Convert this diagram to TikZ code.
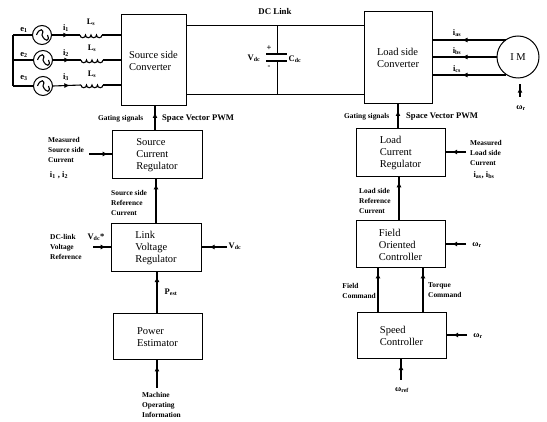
\documentclass[tikz,border=0pt]{standalone}
\usepackage{fontspec}
\setmainfont{Liberation Serif}
\usetikzlibrary{arrows.meta,decorations.markings}
\tikzset{
  x=1pt,y=-1pt,
  blk/.style={draw,line width=1pt,inner sep=0pt,align=left,font=\fontsize{10.5}{12}\selectfont},
  lab/.style={inner sep=0pt,anchor=west,align=left,font=\fontsize{7.4}{10}\selectfont\bfseries},
  sym/.style={inner sep=0pt,font=\fontsize{8.5}{9}\selectfont\bfseries},
  wire/.style={line width=1.1pt},
  ma/.style={wire,postaction={decorate},decoration={markings,mark=at position #1 with {\arrow{Latex[length=5.5pt,width=5pt]}}}},
  src/.style={draw,circle,line width=1pt,minimum size=19pt,inner sep=0pt},
  coil/.style={wire}
}
\newcommand{\rectbox}[6]{\node[blk,minimum width=#4-#2 pt,minimum height=#5-#3 pt] (#1) at ({(#2+#4)/2},{(#3+#5)/2}) {#6};}
\newcommand{\sinewave}[1]{\draw[wire] (#1) ++(-5.5,0) .. controls +(2.5,-7) and +(3,-7) .. ++(5.5,0) .. controls +(2.5,7) and +(3,7) .. ++(5.5,0);}
\newcommand{\coilat}[1]{\draw[coil] (#1) ++(-11,0) arc (180:0:2.75) arc (180:0:2.75) arc (180:0:2.75) arc (180:0:2.75);}
\begin{document}
\begin{tikzpicture}
\useasboundingbox (0,0) rectangle (547,422);
% blocks
\rectbox{ssc}{121}{15}{186}{106}{Source side\\Converter}
\rectbox{lsc}{364}{12}{432}{104}{Load side\\Converter}
\rectbox{scr}{112}{131}{202}{179}{Source\\Current\\Regulator}
\rectbox{lvr}{111}{224}{201}{272}{Link\\Voltage\\Regulator}
\rectbox{pe}{113}{314}{202}{360}{Power\\Estimator}
\rectbox{lcr}{356}{129}{445}{177}{Load\\Current\\Regulator}
\rectbox{foc}{356}{221}{445}{268}{Field\\Oriented\\Controller}
\rectbox{spd}{357}{313}{446}{359}{Speed\\Controller}
\node[draw,circle,line width=1pt,minimum size=42pt,inner sep=0pt,font=\fontsize{10.5}{12}\selectfont] (im) at (518,57) {I M};
% sources
\node[src] (s1) at (42,35) {};
\node[src] (s2) at (43,60) {};
\node[src] (s3) at (43,86) {};
\sinewave{s1}\sinewave{s2}\sinewave{s3}
\coordinate (busa) at (13,35);
\coordinate (busb) at (13,60);
\coordinate (busc) at (13,86);
\draw[wire] (busa) -- (busc);
\draw[wire] (busa) -- (s1);
\draw[wire] (busb) -- (s2);
\draw[wire] (busc) -- (s3);
\coordinate (la) at (91,35);
\coordinate (lb) at (92,60);
\coordinate (lc) at (92,85);
\coordinate (la1) at (80,35);\coordinate (la2) at (102,35);
\coordinate (lb1) at (81,60);\coordinate (lb2) at (103,60);
\coordinate (lc1) at (81,85);\coordinate (lc2) at (103,85);
\coilat{la}\coilat{lb}\coilat{lc}
\draw[ma=0.6] (s1.east) -- (la1);
\draw[ma=0.6] (s2.east) -- (lb1);
\draw[ma=0.6] (s3.east) -- (lc1);
\draw[wire] (la2) -- (la2 -| ssc.west);
\draw[wire] (lb2) -- (lb2 -| ssc.west);
\draw[wire] (lc2) -- (lc2 -| ssc.west);
\node[sym] (e1) at (24,30) {e\textsubscript{1}};
\node[sym] (e2) at (24,55) {e\textsubscript{2}};
\node[sym] (e3) at (24,78) {e\textsubscript{3}};
\node[sym] (i1) at (66,28) {i\textsubscript{1}};
\node[sym] (i2) at (66,53) {i\textsubscript{2}};
\node[sym] (i3) at (66,77) {i\textsubscript{3}};
\node[sym] (l1) at (91,22) {L\textsubscript{s}};
\node[sym] (l2) at (92,48) {L\textsubscript{s}};
\node[sym] (l3) at (92,74) {L\textsubscript{s}};
% DC link
\coordinate (dct) at (277.5,25.5);
\coordinate (dcb) at (277.5,94.5);
\coordinate (cpa) at (277.5,54);
\coordinate (cpb) at (277.5,61);
\draw[wire] (ssc.east |- dct) -- (dct) -- (lsc.west |- dct);
\draw[wire] (ssc.east |- dcb) -- (dcb) -- (lsc.west |- dcb);
\draw[wire] (dct) -- (cpa);
\draw[wire] (dcb) -- (cpb);
\draw[line width=1.2pt] (266,54) -- (287,54);
\draw[line width=1.2pt] (266,61) -- (287,61);
\node[sym,font=\fontsize{8.8}{9}\selectfont\bfseries] (dcl) at (275,11) {DC Link};
\node[sym] (vdc) at (254,58) {V\textsubscript{dc}};
\node[sym] (pl) at (269,48) {+};
\node[sym] (mi) at (269,67) {-};
\node[sym] (cdc) at (295,59) {C\textsubscript{dc}};
% motor
\coordinate (ma1) at (506,40);
\coordinate (ma3) at (506,75);
\draw[wire] (lsc.east |- ma1) -- (ma1);
\draw[wire] (lsc.east |- im.west) -- (im.west);
\draw[wire] (lsc.east |- ma3) -- (ma3);
\draw[ma=0.88] (ma1) -- (456,40);
\draw[ma=0.85] (im.west) -- (456,57);
\draw[ma=0.88] (ma3) -- (456,75);
\node[sym] (ia) at (457,33) {i\textsubscript{as}};
\node[sym] (ib) at (457,51) {i\textsubscript{bs}};
\node[sym] (ic) at (457,69) {i\textsubscript{cs}};
\coordinate (wrm) at (520,97);
\draw[ma=0.75] (wrm) -- (520,84);
\node[sym] (wr0) at (521,108) {ω\textsubscript{r}};
% gating
\draw[ma=0.75] (scr.north -| 155,0) -- (ssc.south -| 155,0);
\draw[ma=0.75] (lcr.north -| 398,0) -- (lsc.south -| 398,0);
\node[lab] (g1) at (98,119) {Gating signals};
\node[lab,font=\fontsize{8.6}{9}\selectfont\bfseries] (g2) at (162,119) {Space Vector PWM};
\node[lab] (g3) at (344,117) {Gating signals};
\node[lab,font=\fontsize{8.6}{9}\selectfont\bfseries] (g4) at (406,117) {Space Vector PWM};
% left chain
\coordinate (msw) at (89,154);
\draw[ma=0.85] (msw) -- (msw -| scr.west);
\node[lab] (m1) at (48,150) {Measured\\Source side\\Current};
\node[sym] (m2) at (59,175) {i\textsubscript{1} , i\textsubscript{2}};
\draw[ma=0.9] (lvr.north -| 156,0) -- (scr.south -| 156,0);
\node[lab] (m3) at (111,203) {Source side\\Reference\\Current};
\coordinate (vrefw) at (93,247);
\draw[ma=0.75] (vrefw) -- (vrefw -| lvr.west);
\node[lab] (m4) at (50,247) {DC-link\\Voltage\\Reference};
\node[sym] (m5) at (96,237) {V\textsubscript{dc}*};
\coordinate (vde) at (227,247);
\draw[ma=0.7] (vde) -- (vde -| lvr.east);
\node[sym] (m6) at (235,246) {V\textsubscript{dc}};
\draw[ma=0.9] (pe.north -| 157,0) -- (lvr.south -| 157,0);
\node[sym] (m7) at (171,292) {P\textsubscript{est}};
\coordinate (mio) at (157,388);
\draw[ma=0.8] (mio) -- (mio |- pe.south);
\node[lab] (m8) at (142,405) {Machine\\Operating\\Information};
% right chain
\coordinate (mle) at (466,152);
\draw[ma=0.7] (mle) -- (mle -| lcr.east);
\node[lab] (r1) at (470,153) {Measured\\Load side\\Current};
\node[sym] (r2) at (484,175) {i\textsubscript{as}, i\textsubscript{bs}};
\draw[ma=0.9] (foc.north -| 399,0) -- (lcr.south -| 399,0);
\node[lab] (r3) at (359,201) {Load side\\Reference\\Current};
\coordinate (wr1) at (466,244);
\draw[ma=0.7] (wr1) -- (wr1 -| foc.east);
\node[sym] (r4) at (477,245) {ω\textsubscript{r}};
\draw[ma=0.9] (spd.north -| 378,0) -- (foc.south -| 378,0);
\draw[ma=0.9] (spd.north -| 423,0) -- (foc.south -| 423,0);
\node[lab,anchor=east] (r5) at (376,291) {Field\\Command};
\node[lab] (r6) at (428,290) {Torque\\Command};
\coordinate (wr2) at (467,335);
\draw[ma=0.7] (wr2) -- (wr2 -| spd.east);
\node[sym] (r7) at (478,336) {ω\textsubscript{r}};
\coordinate (wrf) at (401,380);
\draw[ma=0.75] (wrf) -- (wrf |- spd.south);
\node[sym] (r8) at (402,390) {ω\textsubscript{ref}};
\end{tikzpicture}
\end{document}
